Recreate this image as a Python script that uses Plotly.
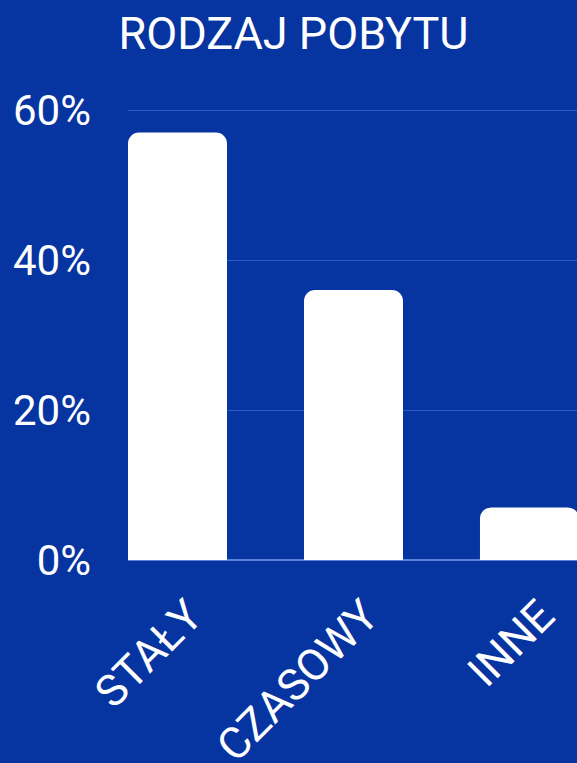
import plotly.graph_objects as go

categories = ["STAŁY", "CZASOWY", "INNE"]
values = [57, 36, 7]
y_ticks = [0, 20, 40, 60]
y_tick_labels = ["0%", "20%", "40%", "60%"]
title_text = "RODZAJ POBYTU"

BG = "#0634a0"
W, H = 577, 763

fig = go.Figure(
    go.Bar(
        x=categories,
        y=values,
        width=0.5625,
        marker=dict(color="white", line=dict(width=0), cornerradius=11),
        hoverinfo="skip",
    )
)

fig.update_layout(
    width=W,
    height=H,
    paper_bgcolor=BG,
    plot_bgcolor=BG,
    margin=dict(l=128, r=0, t=108, b=203, pad=0, autoexpand=False),
    showlegend=False,
    font=dict(family="Roboto", color="white"),
    title=dict(
        text=title_text,
        x=293.5 / W,
        xanchor="center",
        xref="container",
        y=1 - 33 / H,
        yref="container",
        yanchor="middle",
        font=dict(family="Roboto", size=45, color="white"),
    ),
)

fig.update_xaxes(
    type="category",
    range=[-0.28125, 2.27],
    automargin=False,
    showgrid=False,
    showline=False,
    zeroline=False,
    tickangle=-45,
    tickfont=dict(family="Roboto", size=44, color="white"),
    ticks="",
    ticklabelstandoff=20,
    ticklabelshift=12,
)

fig.update_yaxes(
    range=[0, 452 / 7.5],
    automargin=False,
    tickvals=y_ticks,
    ticktext=y_tick_labels,
    showgrid=True,
    gridcolor="rgba(120,160,255,0.35)",
    gridwidth=1,
    zeroline=True,
    zerolinecolor="rgba(150,185,255,0.6)",
    zerolinewidth=1.5,
    showline=False,
    ticks="",
    ticklabelstandoff=36,
    tickfont=dict(family="Roboto", size=42, color="white"),
)

fig.write_html(
    "out.html",
    config={"displayModeBar": False},
    post_script="document.body.style.margin='0';document.body.style.background='" + BG + "';",
)
